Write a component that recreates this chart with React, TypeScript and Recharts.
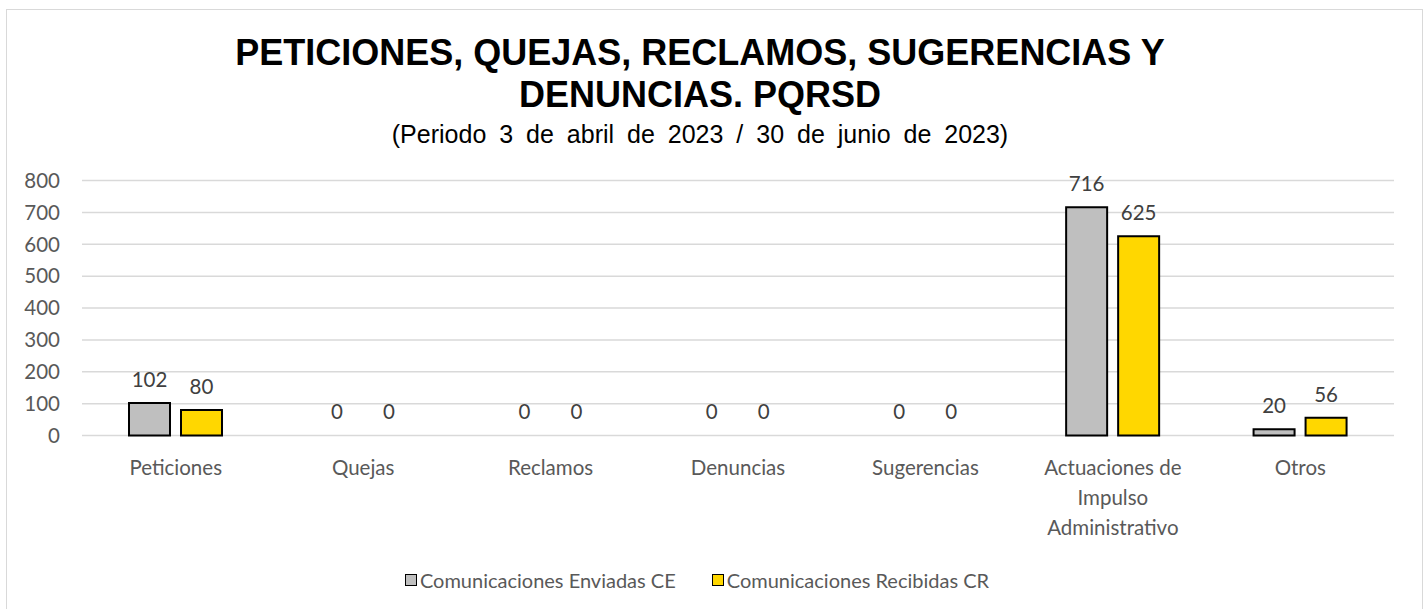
import {
  BarChart,
  Bar,
  XAxis,
  YAxis,
  CartesianGrid,
  Legend,
  LabelList,
  Rectangle,
  Text,
} from "recharts";

const categories = [
  "Peticiones",
  "Quejas",
  "Reclamos",
  "Denuncias",
  "Sugerencias",
  "Actuaciones de Impulso Administrativo",
  "Otros",
];
const enviadas = [102, 0, 0, 0, 0, 716, 20];
const recibidas = [80, 0, 0, 0, 0, 625, 56];
const yTicks = [0, 100, 200, 300, 400, 500, 600, 700, 800];

const data = categories.map((name, i) => ({
  name,
  enviadas: enviadas[i],
  recibidas: recibidas[i],
}));

const labelFont = "Lato, 'Open Sans', sans-serif";
const titleFont = "'Liberation Sans', Arial, sans-serif";

// zero values keep a 1px slot so the label is drawn, but no visible bar
const barShape = (key: string) => (props: any) => {
  if (!props.payload || props.payload[key] === 0) return <g />;
  return <Rectangle {...props} />;
};

function CategoryTick(props: any) {
  const { x, y, payload } = props;
  return (
    <Text
      x={x}
      y={y + 25}
      width={145}
      textAnchor="middle"
      verticalAnchor="start"
      lineHeight={30}
      fontSize={20.5}
      fontFamily={labelFont}
      fill="#595959"
    >
      {payload.value}
    </Text>
  );
}

function renderLegend(props: any) {
  const { payload } = props;
  return (
    <div
      style={{
        display: "flex",
        justifyContent: "center",
        alignItems: "center",
        gap: "36px",
        height: "24px",
        fontFamily: labelFont,
        fontSize: "20px",
        color: "#595959",
      }}
    >
      {payload.map((entry: any) => (
        <span
          key={entry.value}
          style={{ display: "flex", alignItems: "center" }}
        >
          <span
            style={{
              width: "10px",
              height: "10px",
              background: entry.color,
              border: "1.5px solid #000",
              marginRight: "3px",
            }}
          />
          {entry.value}
        </span>
      ))}
    </div>
  );
}

export default function App() {
  return (
    <div
      style={{
        position: "absolute",
        left: 0,
        top: 0,
        width: "1427px",
        height: "609px",
        overflow: "hidden",
        background: "#fff",
      }}
    >
      <div
        style={{
          position: "absolute",
          left: "6px",
          top: "9px",
          width: "1415px",
          height: "700px",
          border: "1.5px solid #d9d9d9",
        }}
      />
      <div
        style={{
          position: "absolute",
          left: 0,
          top: "32px",
          width: "1400px",
          textAlign: "center",
          fontFamily: titleFont,
          fontWeight: "bold",
          fontSize: "36px",
          lineHeight: "42px",
          color: "#000",
        }}
      >
        PETICIONES, QUEJAS, RECLAMOS, SUGERENCIAS Y
        <br />
        DENUNCIAS. PQRSD
      </div>
      <div
        style={{
          position: "absolute",
          left: 0,
          top: "119px",
          width: "1400px",
          textAlign: "center",
          fontFamily: titleFont,
          fontSize: "25px",
          lineHeight: "30px",
          wordSpacing: "6px",
          color: "#000",
        }}
      >
        (Periodo 3 de abril de 2023 / 30 de junio de 2023)
      </div>
      <div style={{ position: "absolute", left: 0, top: 0 }}>
        <BarChart
          width={1427}
          height={609}
          data={data}
          margin={{ top: 180.5, right: 33, bottom: 17, left: 0 }}
          barGap={11}
        >
          <CartesianGrid
            vertical={false}
            stroke="#d9d9d9"
            strokeWidth={1.5}
          />
          <XAxis
            dataKey="name"
            axisLine={false}
            tickLine={false}
            tickSize={0}
            tickMargin={0}
            height={132.5}
            interval={0}
            tick={<CategoryTick />}
          />
          <YAxis
            domain={[0, 800]}
            ticks={yTicks}
            axisLine={false}
            tickLine={false}
            tickSize={0}
            tickMargin={22}
            width={82}
            tick={{ fontSize: 20.5, fontFamily: labelFont, fill: "#595959" }}
          />
          <Legend
            verticalAlign="bottom"
            align="center"
            content={renderLegend}
          />
          <Bar
            dataKey="enviadas"
            name="Comunicaciones Enviadas CE"
            fill="#BFBFBF"
            stroke="#000"
            strokeWidth={2}
            barSize={41}
            minPointSize={1}
            shape={barShape("enviadas")}
            isAnimationActive={false}
          >
            <LabelList
              dataKey="enviadas"
              position="top"
              offset={16}
              fill="#404040"
              fontSize={20.5}
              fontFamily={labelFont}
            />
          </Bar>
          <Bar
            dataKey="recibidas"
            name="Comunicaciones Recibidas CR"
            fill="#FFD700"
            stroke="#000"
            strokeWidth={2}
            barSize={41}
            minPointSize={1}
            shape={barShape("recibidas")}
            isAnimationActive={false}
          >
            <LabelList
              dataKey="recibidas"
              position="top"
              offset={16}
              fill="#404040"
              fontSize={20.5}
              fontFamily={labelFont}
            />
          </Bar>
        </BarChart>
      </div>
    </div>
  );
}
